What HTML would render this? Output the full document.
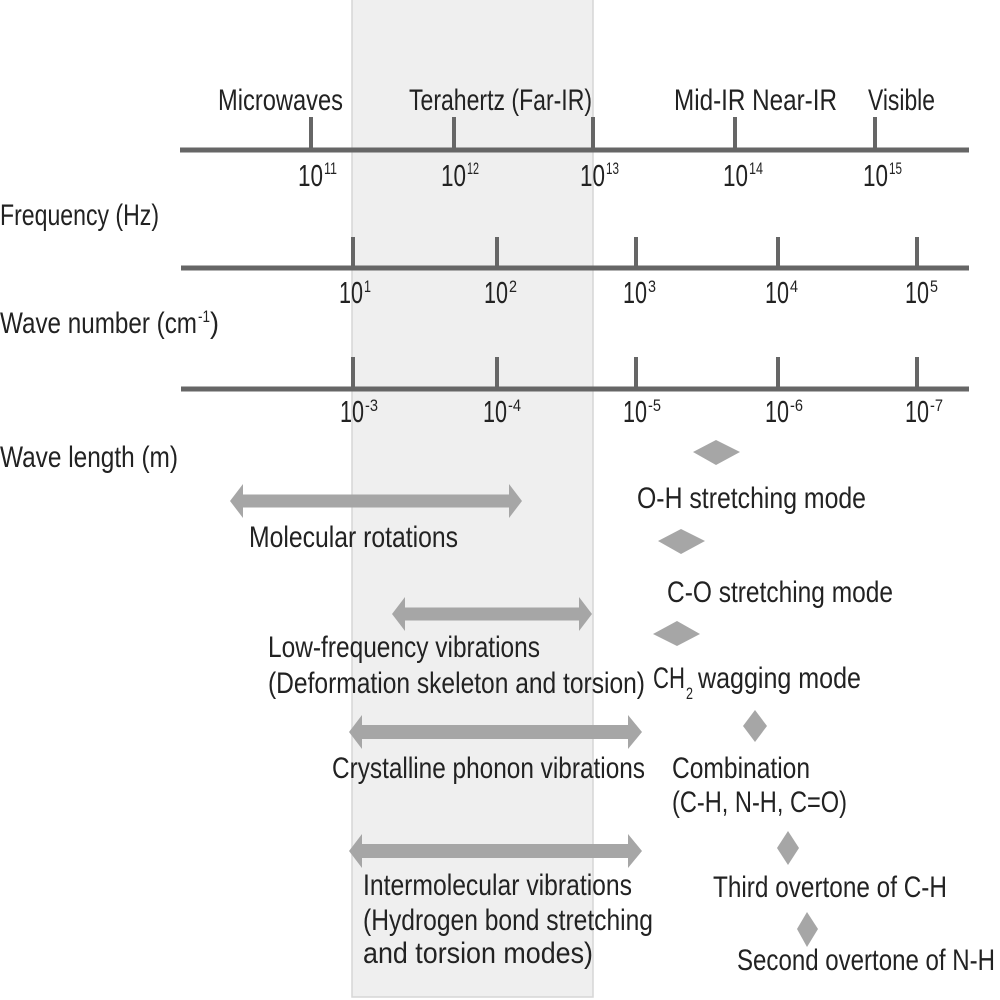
<!DOCTYPE html>
<html><head><meta charset="utf-8"><style>
html,body{margin:0;padding:0;background:#fff;}
svg{display:block;}
text{font-family:"Liberation Sans",sans-serif;fill:#222;}
.t{font-size:30px;}
.n{font-size:31px;}
.s{font-size:17px;}
</style></head><body>
<svg width="1000" height="1000" viewBox="0 0 1000 1000" xmlns="http://www.w3.org/2000/svg">
<rect x="0" y="0" width="1000" height="1000" fill="#fff"/>
<rect x="352" y="-2" width="241" height="999" fill="#efefef" stroke="#d6d6d6" stroke-width="1.5"/>

<!-- axis lines -->
<g stroke="#666" stroke-width="5">
<line x1="180" y1="150" x2="969" y2="150"/>
<line x1="181" y1="268" x2="969" y2="268"/>
<line x1="181" y1="389" x2="969" y2="389"/>
</g>
<g stroke="#666" stroke-width="4">
<line x1="311" y1="117" x2="311" y2="150"/>
<line x1="454" y1="117" x2="454" y2="150"/>
<line x1="593" y1="117" x2="593" y2="150"/>
<line x1="735" y1="117" x2="735" y2="150"/>
<line x1="875" y1="117" x2="875" y2="150"/>
<line x1="353" y1="237" x2="353" y2="268"/>
<line x1="497" y1="237" x2="497" y2="268"/>
<line x1="636" y1="237" x2="636" y2="268"/>
<line x1="778" y1="237" x2="778" y2="268"/>
<line x1="917" y1="237" x2="917" y2="268"/>
<line x1="353" y1="357" x2="353" y2="389"/>
<line x1="497" y1="357" x2="497" y2="389"/>
<line x1="636" y1="357" x2="636" y2="389"/>
<line x1="778" y1="357" x2="778" y2="389"/>
<line x1="917" y1="357" x2="917" y2="389"/>
</g>

<!-- top labels -->
<text class="t" x="218" y="110" textLength="125" lengthAdjust="spacingAndGlyphs">Microwaves</text>
<text class="t" x="409" y="110" textLength="183" lengthAdjust="spacingAndGlyphs">Terahertz (Far-IR)</text>
<text class="t" x="674" y="110" textLength="163" lengthAdjust="spacingAndGlyphs">Mid-IR Near-IR</text>
<text class="t" x="868" y="110" textLength="67" lengthAdjust="spacingAndGlyphs">Visible</text>

<!-- axis 1 numbers -->
<g>
<text class="n" x="298" y="186" textLength="25" lengthAdjust="spacingAndGlyphs">10</text><text class="s" x="324" y="174" textLength="13" lengthAdjust="spacingAndGlyphs">11</text>
<text class="n" x="441" y="186" textLength="25" lengthAdjust="spacingAndGlyphs">10</text><text class="s" x="467" y="174" textLength="12" lengthAdjust="spacingAndGlyphs">12</text>
<text class="n" x="580" y="186" textLength="25" lengthAdjust="spacingAndGlyphs">10</text><text class="s" x="606" y="174" textLength="13" lengthAdjust="spacingAndGlyphs">13</text>
<text class="n" x="723" y="186" textLength="25" lengthAdjust="spacingAndGlyphs">10</text><text class="s" x="749" y="174" textLength="14" lengthAdjust="spacingAndGlyphs">14</text>
<text class="n" x="863" y="186" textLength="25" lengthAdjust="spacingAndGlyphs">10</text><text class="s" x="889" y="174" textLength="13" lengthAdjust="spacingAndGlyphs">15</text>
</g>

<!-- axis 2 numbers -->
<g>
<text class="n" x="339" y="303" textLength="24" lengthAdjust="spacingAndGlyphs">10</text><text class="s" x="364" y="292" textLength="7" lengthAdjust="spacingAndGlyphs">1</text>
<text class="n" x="484" y="303" textLength="24" lengthAdjust="spacingAndGlyphs">10</text><text class="s" x="509" y="292" textLength="8" lengthAdjust="spacingAndGlyphs">2</text>
<text class="n" x="623" y="303" textLength="24" lengthAdjust="spacingAndGlyphs">10</text><text class="s" x="648" y="292" textLength="8" lengthAdjust="spacingAndGlyphs">3</text>
<text class="n" x="765" y="303" textLength="24" lengthAdjust="spacingAndGlyphs">10</text><text class="s" x="790" y="292" textLength="8" lengthAdjust="spacingAndGlyphs">4</text>
<text class="n" x="905" y="303" textLength="24" lengthAdjust="spacingAndGlyphs">10</text><text class="s" x="930" y="292" textLength="8" lengthAdjust="spacingAndGlyphs">5</text>
</g>

<!-- axis 3 numbers -->
<g>
<text class="n" x="340" y="422" textLength="24" lengthAdjust="spacingAndGlyphs">10</text><text class="s" x="365" y="411" textLength="13" lengthAdjust="spacingAndGlyphs">-3</text>
<text class="n" x="483" y="422" textLength="24" lengthAdjust="spacingAndGlyphs">10</text><text class="s" x="508" y="411" textLength="13" lengthAdjust="spacingAndGlyphs">-4</text>
<text class="n" x="623" y="422" textLength="24" lengthAdjust="spacingAndGlyphs">10</text><text class="s" x="648" y="411" textLength="13" lengthAdjust="spacingAndGlyphs">-5</text>
<text class="n" x="765" y="422" textLength="24" lengthAdjust="spacingAndGlyphs">10</text><text class="s" x="790" y="411" textLength="13" lengthAdjust="spacingAndGlyphs">-6</text>
<text class="n" x="905" y="422" textLength="24" lengthAdjust="spacingAndGlyphs">10</text><text class="s" x="930" y="411" textLength="13" lengthAdjust="spacingAndGlyphs">-7</text>
</g>

<!-- left labels -->
<text class="t" x="0" y="225" textLength="159" lengthAdjust="spacingAndGlyphs">Frequency (Hz)</text>
<text class="t" x="0" y="333" textLength="197" lengthAdjust="spacingAndGlyphs">Wave number (cm</text>
<text class="s" x="198" y="322" textLength="12" lengthAdjust="spacingAndGlyphs">-1</text>
<text class="t" x="210" y="333" textLength="9" lengthAdjust="spacingAndGlyphs">)</text>
<text class="t" x="0" y="467" textLength="178" lengthAdjust="spacingAndGlyphs">Wave length (m)</text>

<!-- double arrows -->
<g fill="#a6a6a6">
<polygon points="230,501 243,484 243,494.5 509,494.5 509,484 522,501 509,518 509,507.5 243,507.5 243,518"/>
<polygon points="392,614 405,597 405,607.5 579,607.5 579,597 592,614 579,631 579,620.5 405,620.5 405,631"/>
<polygon points="349,732 362,715 362,725 628,725 628,715 642,732 628,749 628,739 362,739 362,749"/>
<polygon points="349,851 362,834 362,844 628,844 628,834 642,851 628,868 628,858 362,858 362,868"/>
</g>

<!-- diamonds -->
<g fill="#a6a6a6">
<polygon points="693,452 716,440 740,452 716,465"/>
<polygon points="658,541 681,529 705,541 681,554"/>
<polygon points="653,634 677,621 700,634 677,646"/>
<polygon points="743,726 755,710 767,726 755,742"/>
<polygon points="777,848 788,831 799,848 788,865"/>
<polygon points="797,929 807,912 818,929 807,947"/>
</g>

<!-- band texts -->
<text class="t" x="249" y="547" textLength="209" lengthAdjust="spacingAndGlyphs">Molecular rotations</text>
<text class="t" x="268" y="657" textLength="272" lengthAdjust="spacingAndGlyphs">Low-frequency vibrations</text>
<text class="t" x="268" y="693" textLength="377" lengthAdjust="spacingAndGlyphs">(Deformation skeleton and torsion)</text>
<text class="t" x="332" y="778" textLength="313" lengthAdjust="spacingAndGlyphs">Crystalline phonon vibrations</text>
<text class="t" x="363" y="895" textLength="269" lengthAdjust="spacingAndGlyphs">Intermolecular vibrations</text>
<text class="t" x="363" y="930" textLength="290" lengthAdjust="spacingAndGlyphs">(Hydrogen bond stretching</text>
<text class="t" x="363" y="963" textLength="230" lengthAdjust="spacingAndGlyphs">and torsion modes)</text>

<!-- right texts -->
<text class="t" x="637" y="508" textLength="229" lengthAdjust="spacingAndGlyphs">O-H stretching mode</text>
<text class="t" x="667" y="602" textLength="226" lengthAdjust="spacingAndGlyphs">C-O stretching mode</text>
<text class="t" x="653" y="688" textLength="32" lengthAdjust="spacingAndGlyphs">CH</text>
<text class="s" x="686" y="699" textLength="7" lengthAdjust="spacingAndGlyphs">2</text>
<text class="t" x="698" y="688" textLength="163" lengthAdjust="spacingAndGlyphs">wagging mode</text>
<text class="t" x="672" y="778" textLength="138" lengthAdjust="spacingAndGlyphs">Combination</text>
<text class="t" x="672" y="812" textLength="175" lengthAdjust="spacingAndGlyphs">(C-H, N-H, C=O)</text>
<text class="t" x="713" y="897" textLength="234" lengthAdjust="spacingAndGlyphs">Third overtone of C-H</text>
<text class="t" x="737" y="970" textLength="258" lengthAdjust="spacingAndGlyphs">Second overtone of N-H</text>
</svg>
</body></html>
